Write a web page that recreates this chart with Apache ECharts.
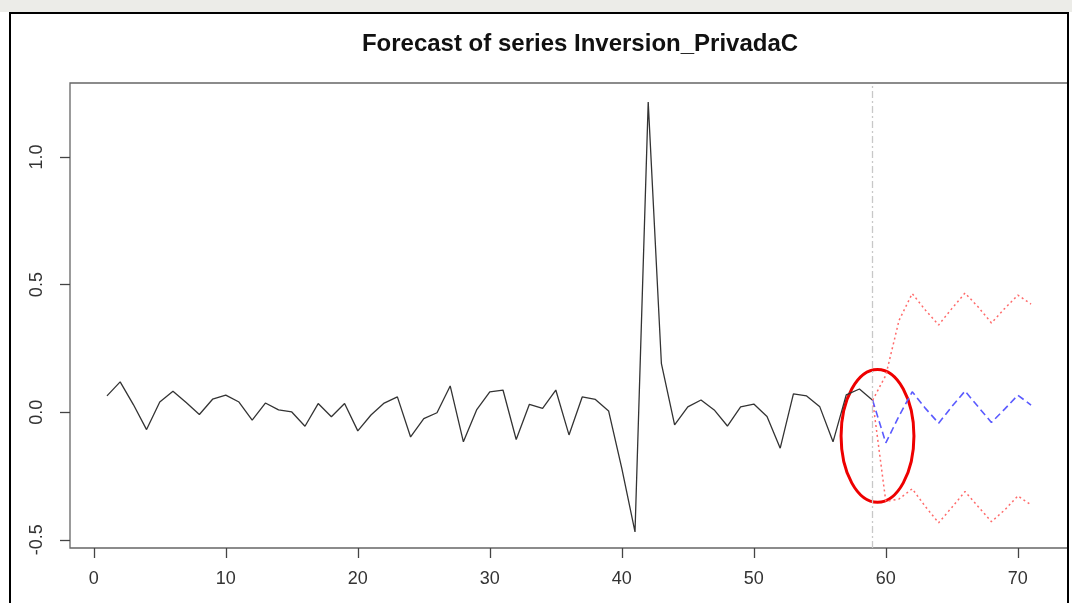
<!DOCTYPE html>
<html>
<head>
<meta charset="utf-8">
<script src="https://cdn.jsdelivr.net/npm/echarts@6/dist/echarts.min.js"></script>
<style>
html,body{margin:0;padding:0;background:#fff;}
#chart{width:1072px;height:603px;}
</style>
</head>
<body>
<div id="chart"></div>
<script>
// Observed series, t = 1..59
const obsStart = 1;
const observed = [0.064, 0.119, 0.030, -0.068, 0.040, 0.082, 0.038, -0.009, 0.051, 0.067,
  0.040, -0.031, 0.036, 0.009, 0.001, -0.055, 0.034, -0.018, 0.034, -0.073,
  -0.011, 0.036, 0.060, -0.097, -0.025, -0.002, 0.103, -0.116, 0.009, 0.080,
  0.087, -0.107, 0.031, 0.015, 0.087, -0.089, 0.060, 0.050, 0.005, -0.220,
  -0.469, 1.215, 0.190, -0.050, 0.021, 0.048, 0.009, -0.054, 0.021, 0.032,
  -0.017, -0.141, 0.072, 0.064, 0.021, -0.116, 0.068, 0.091, 0.047];
// Forecast, t = 59..71
const fcStart = 59;
const fcMean  = [0.047, -0.120, -0.015, 0.080, 0.015, -0.043, 0.022, 0.083, 0.021, -0.040, 0.012, 0.067, 0.028];
const fcUpper = [0.047, 0.145, 0.360, 0.465, 0.400, 0.342, 0.406, 0.467, 0.412, 0.350, 0.406, 0.459, 0.424];
const fcLower = [0.047, -0.350, -0.340, -0.300, -0.370, -0.433, -0.373, -0.311, -0.370, -0.429, -0.383, -0.328, -0.363];
const xTicks = [0, 10, 20, 30, 40, 50, 60, 70];
const yTicks = [-0.5, 0.0, 0.5, 1.0];
const forecastOrigin = 59;
const titleText = 'Forecast of series Inversion_PrivadaC';

const pairs = (start, arr) => arr.map((v, i) => [start + i, v]);

const chart = echarts.init(document.getElementById('chart'));
const font = '"Liberation Sans", Arial, sans-serif';
const option = {
  animation: false,
  backgroundColor: '#fff',
  title: {
    text: titleText, left: 575, textAlign: 'center', top: 27,
    textStyle: { fontFamily: font, fontSize: 24, fontWeight: 'bold', color: '#111' }
  },
  grid: { left: 70, right: 4, top: 83, bottom: 55, show: true, borderColor: '#666', borderWidth: 1.3, backgroundColor: 'transparent' },
  xAxis: {
    type: 'value', min: -1.8, max: 73.8, position: 'bottom',
    axisLine: { show: false, onZero: false },
    splitLine: { show: false },
    axisTick: { show: true, inside: false, length: 10, customValues: xTicks, lineStyle: { color: '#444', width: 1.3 } },
    axisLabel: { customValues: xTicks, margin: 22, fontFamily: font, fontSize: 18, color: '#333', showMinLabel: true, showMaxLabel: true,
      formatter: v => String(v) }
  },
  yAxis: {
    type: 'value', min: -0.532, max: 1.29, position: 'left',
    axisLine: { show: false, onZero: false },
    splitLine: { show: false },
    axisTick: { show: true, inside: false, length: 10, customValues: yTicks, lineStyle: { color: '#444', width: 1.3 } },
    axisLabel: { customValues: yTicks, rotate: 90, margin: 24, fontFamily: font, fontSize: 18, color: '#333',
      formatter: v => v.toFixed(1) }
  },
  series: [
    { type: 'line', data: pairs(obsStart, observed), symbol: 'none', lineStyle: { color: '#333', width: 1.3 },
      markLine: { silent: true, symbol: 'none', label: { show: false },
        lineStyle: { color: '#c8c8c8', type: [7, 3, 2, 3], width: 1.3 },
        data: [{ xAxis: forecastOrigin }] } },
    { type: 'line', data: pairs(fcStart, fcUpper), symbol: 'none', lineStyle: { color: '#ff6a6a', width: 1.5, type: [2, 3] } },
    { type: 'line', data: pairs(fcStart, fcLower), symbol: 'none', lineStyle: { color: '#ff6a6a', width: 1.5, type: [2, 3] } },
    { type: 'line', data: pairs(fcStart, fcMean), symbol: 'none', lineStyle: { color: '#5a5aff', width: 1.6, type: [7, 4] } }
  ]
};
chart.setOption(option);

// annotation ellipse around the forecast origin, placed via the axes
const c = chart.convertToPixel({ gridIndex: 0 }, [59.37, -0.093]);
const ex = chart.convertToPixel({ gridIndex: 0 }, [59.37 + 2.76, -0.093 + 0.26]);
chart.setOption({
  graphic: [
    { type: 'rect', shape: { x: 0, y: 0, width: 1072, height: 12 }, style: { fill: '#ecece8' }, silent: true },
    { type: 'rect', shape: { x: 10, y: 13, width: 1058, height: 600 }, style: { fill: 'none', stroke: '#000', lineWidth: 2 }, silent: true },
    { type: 'ellipse', shape: { cx: c[0], cy: c[1], rx: Math.abs(ex[0] - c[0]), ry: Math.abs(c[1] - ex[1]) },
      style: { fill: 'none', stroke: '#ee0000', lineWidth: 3 }, silent: true }
  ]
});
</script>
</body>
</html>
